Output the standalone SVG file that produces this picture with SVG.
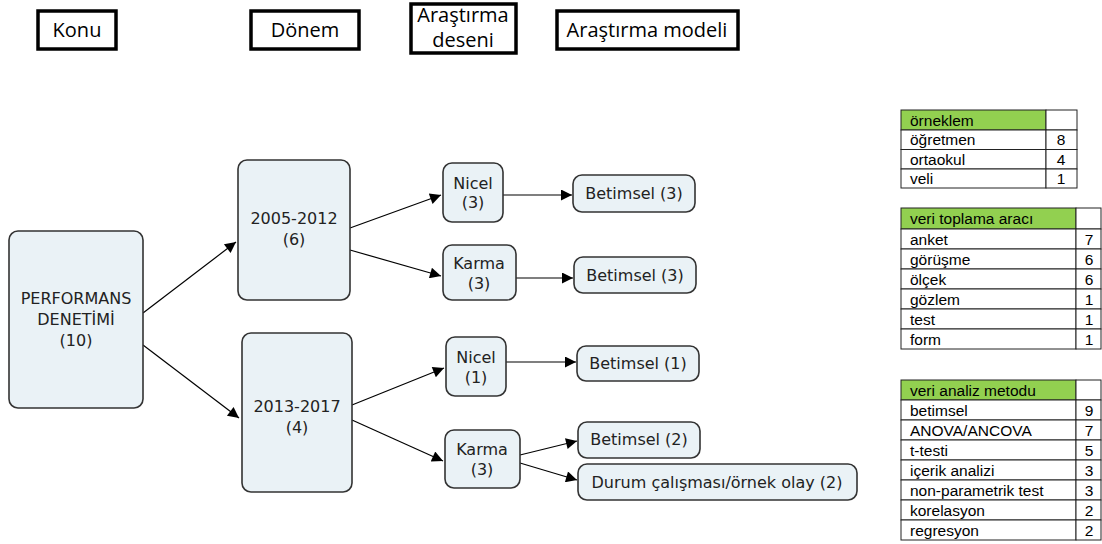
<svg xmlns="http://www.w3.org/2000/svg" width="1102" height="544" viewBox="0 0 1102 544">
<defs>
<style>
.hdr{fill:#fff;stroke:#000;stroke-width:3.5}
.ht{font-family:"Open Sans","Liberation Sans",sans-serif;font-size:20px;fill:#000;text-anchor:middle}
.nd{fill:#eaf2f6;stroke:#333;stroke-width:1.6}
.nt{font-family:"DejaVu Sans","Liberation Sans",sans-serif;font-size:16px;fill:#222;text-anchor:middle}
.cn{stroke:#000;stroke-width:1.2;fill:none;marker-end:url(#ah)}
.tc{fill:#fff;stroke:#222;stroke-width:1}
.tg{fill:#92d050;stroke:#222;stroke-width:1}
.tt{font-family:"Liberation Sans",Arial,sans-serif;font-size:15.5px;fill:#000}
.tn{font-family:"Liberation Sans",Arial,sans-serif;font-size:15.5px;fill:#000;text-anchor:middle}
</style>
<marker id="ah" viewBox="0 0 10 10" refX="10" refY="5" markerWidth="14" markerHeight="11" markerUnits="userSpaceOnUse" orient="auto">
<path d="M0,0 L10,5 L0,10 z" fill="#000"/>
</marker>
</defs>
<rect width="1102" height="544" fill="#fff"/>
<g id="headers">
<g id="h-konu"><rect class="hdr" x="38" y="11" width="78" height="38"/><text class="ht" x="77" y="37">Konu</text></g>
<g id="h-donem"><rect class="hdr" x="251" y="11" width="108" height="38"/><text class="ht" x="305" y="37">Dönem</text></g>
<g id="h-desen"><rect class="hdr" x="411" y="4" width="105" height="49"/><text class="ht" x="463" y="22">Araştırma</text><text class="ht" x="463" y="47">deseni</text></g>
<g id="h-model"><rect class="hdr" x="557" y="11" width="181" height="38"/><text class="ht" x="647" y="37">Araştırma modeli</text></g>
</g>
<g id="connectors">
<line class="cn" x1="143" y1="313" x2="236" y2="242"/>
<line class="cn" x1="143" y1="345" x2="239" y2="418"/>
<line class="cn" x1="350" y1="228" x2="441" y2="195"/>
<line class="cn" x1="350" y1="250" x2="441" y2="276"/>
<line class="cn" x1="503" y1="195" x2="572" y2="195"/>
<line class="cn" x1="516" y1="278" x2="573" y2="278"/>
<line class="cn" x1="352" y1="405" x2="444" y2="368"/>
<line class="cn" x1="352" y1="420" x2="443" y2="461"/>
<line class="cn" x1="506" y1="362" x2="576" y2="362"/>
<line class="cn" x1="520" y1="455" x2="577" y2="441"/>
<line class="cn" x1="520" y1="463" x2="577" y2="480"/>
</g>
<g id="n-perf"><rect class="nd" x="9" y="231" width="134" height="177" rx="9"/><text class="nt" x="76" y="304">PERFORMANS</text><text class="nt" x="76" y="325">DENETİMİ</text><text class="nt" x="76" y="346">(10)</text></g>
<g id="n-2005"><rect class="nd" x="238" y="160" width="112" height="140" rx="9"/><text class="nt" x="294" y="224">2005-2012</text><text class="nt" x="294" y="245">(6)</text></g>
<g id="n-2013"><rect class="nd" x="242" y="333" width="110" height="159" rx="9"/><text class="nt" x="297" y="412">2013-2017</text><text class="nt" x="297" y="433">(4)</text></g>
<g id="n-nicel3"><rect class="nd" x="443" y="163" width="60" height="59" rx="9"/><text class="nt" x="473" y="189">Nicel</text><text class="nt" x="473" y="208">(3)</text></g>
<g id="n-karma3a"><rect class="nd" x="443" y="245" width="73" height="55" rx="9"/><text class="nt" x="479" y="269">Karma</text><text class="nt" x="479" y="289">(3)</text></g>
<g id="n-bet3a"><rect class="nd" x="573" y="175" width="122" height="37" rx="9"/><text class="nt" x="634" y="199">Betimsel (3)</text></g>
<g id="n-bet3b"><rect class="nd" x="574" y="257" width="122" height="36" rx="9"/><text class="nt" x="635" y="281">Betimsel (3)</text></g>
<g id="n-nicel1"><rect class="nd" x="446" y="337" width="60" height="59" rx="9"/><text class="nt" x="476" y="363">Nicel</text><text class="nt" x="476" y="383">(1)</text></g>
<g id="n-karma3b"><rect class="nd" x="445" y="430" width="75" height="58" rx="9"/><text class="nt" x="482" y="455">Karma</text><text class="nt" x="482" y="475">(3)</text></g>
<g id="n-bet1"><rect class="nd" x="577" y="346" width="122" height="35" rx="9"/><text class="nt" x="638" y="369">Betimsel (1)</text></g>
<g id="n-bet2"><rect class="nd" x="578" y="422" width="122" height="36" rx="9"/><text class="nt" x="639" y="445">Betimsel (2)</text></g>
<g id="n-durum"><rect class="nd" x="578" y="464" width="279" height="36" rx="9"/><text class="nt" x="717" y="488">Durum çalışması/örnek olay (2)</text></g>
<g id="t-orneklem">
<rect class="tg" x="901" y="110" width="145" height="20"/><rect class="tc" x="1046" y="110" width="31" height="20"/>
<text class="tt" x="910" y="125.5">örneklem</text>
<rect class="tc" x="901" y="130" width="145" height="19.5"/><rect class="tc" x="1046" y="130" width="31" height="19.5"/>
<text class="tt" x="910" y="145">öğretmen</text><text class="tn" x="1061" y="145">8</text>
<rect class="tc" x="901" y="149.5" width="145" height="19.5"/><rect class="tc" x="1046" y="149.5" width="31" height="19.5"/>
<text class="tt" x="910" y="164.5">ortaokul</text><text class="tn" x="1061" y="164.5">4</text>
<rect class="tc" x="901" y="169" width="145" height="19"/><rect class="tc" x="1046" y="169" width="31" height="19"/>
<text class="tt" x="910" y="184">veli</text><text class="tn" x="1061" y="184">1</text>
</g>
<g id="t-veritoplama">
<rect class="tg" x="901" y="208" width="175" height="21"/><rect class="tc" x="1076" y="208" width="25" height="21"/>
<text class="tt" x="910" y="224">veri toplama aracı</text>
<rect class="tc" x="901" y="229" width="175" height="20"/><rect class="tc" x="1076" y="229" width="25" height="20"/>
<text class="tt" x="910" y="245">anket</text><text class="tn" x="1089" y="245">7</text>
<rect class="tc" x="901" y="249" width="175" height="20"/><rect class="tc" x="1076" y="249" width="25" height="20"/>
<text class="tt" x="910" y="265">görüşme</text><text class="tn" x="1089" y="265">6</text>
<rect class="tc" x="901" y="269" width="175" height="20"/><rect class="tc" x="1076" y="269" width="25" height="20"/>
<text class="tt" x="910" y="285">ölçek</text><text class="tn" x="1089" y="285">6</text>
<rect class="tc" x="901" y="289" width="175" height="20"/><rect class="tc" x="1076" y="289" width="25" height="20"/>
<text class="tt" x="910" y="305">gözlem</text><text class="tn" x="1089" y="305">1</text>
<rect class="tc" x="901" y="309" width="175" height="20"/><rect class="tc" x="1076" y="309" width="25" height="20"/>
<text class="tt" x="910" y="325">test</text><text class="tn" x="1089" y="325">1</text>
<rect class="tc" x="901" y="329" width="175" height="20"/><rect class="tc" x="1076" y="329" width="25" height="20"/>
<text class="tt" x="910" y="345">form</text><text class="tn" x="1089" y="345">1</text>
</g>
<g id="t-verianaliz">
<rect class="tg" x="901" y="380" width="175" height="20"/><rect class="tc" x="1076" y="380" width="25" height="20"/>
<text class="tt" x="910" y="396">veri analiz metodu</text>
<rect class="tc" x="901" y="400" width="175" height="20"/><rect class="tc" x="1076" y="400" width="25" height="20"/>
<text class="tt" x="910" y="416">betimsel</text><text class="tn" x="1089" y="416">9</text>
<rect class="tc" x="901" y="420" width="175" height="20"/><rect class="tc" x="1076" y="420" width="25" height="20"/>
<text class="tt" x="910" y="436">ANOVA/ANCOVA</text><text class="tn" x="1089" y="436">7</text>
<rect class="tc" x="901" y="440" width="175" height="20"/><rect class="tc" x="1076" y="440" width="25" height="20"/>
<text class="tt" x="910" y="456">t-testi</text><text class="tn" x="1089" y="456">5</text>
<rect class="tc" x="901" y="460" width="175" height="20"/><rect class="tc" x="1076" y="460" width="25" height="20"/>
<text class="tt" x="910" y="476">içerik analizi</text><text class="tn" x="1089" y="476">3</text>
<rect class="tc" x="901" y="480" width="175" height="20"/><rect class="tc" x="1076" y="480" width="25" height="20"/>
<text class="tt" x="910" y="496">non-parametrik test</text><text class="tn" x="1089" y="496">3</text>
<rect class="tc" x="901" y="500" width="175" height="20"/><rect class="tc" x="1076" y="500" width="25" height="20"/>
<text class="tt" x="910" y="516">korelasyon</text><text class="tn" x="1089" y="516">2</text>
<rect class="tc" x="901" y="520" width="175" height="20"/><rect class="tc" x="1076" y="520" width="25" height="20"/>
<text class="tt" x="910" y="536">regresyon</text><text class="tn" x="1089" y="536">2</text>
</g>
</svg>
